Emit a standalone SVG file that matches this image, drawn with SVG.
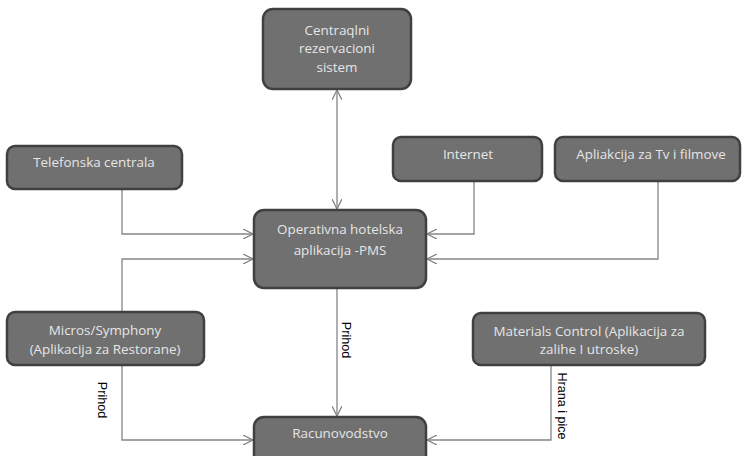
<svg xmlns="http://www.w3.org/2000/svg" width="742" height="456" viewBox="0 0 742 456">
<defs>
<style>
.box{fill:#707070;stroke:#404040;stroke-width:2.5}
.t{font-family:"Open Sans","Noto Sans","Liberation Sans",sans-serif;font-size:13.4px;fill:#e6e6e6;text-anchor:middle}
.c{fill:none;stroke:#858585;stroke-width:1.3}
.lbl{font-family:"Liberation Sans",Arial,sans-serif;font-size:12.6px;fill:#000;text-anchor:middle;dominant-baseline:central}
</style>
<marker id="ah" viewBox="0 0 10 10" refX="10" refY="5" markerWidth="10" markerHeight="10" markerUnits="userSpaceOnUse" orient="auto-start-reverse">
<path d="M0,0 L10,5 L0,10" fill="none" stroke="#858585" stroke-width="1.3"/>
</marker>
</defs>
<rect width="742" height="456" fill="#fff"/>
<g id="connectors">
<path class="c" d="M337,90 L337,209" marker-start="url(#ah)" marker-end="url(#ah)"/>
<path class="c" d="M122,189 L122,234 L253,234" marker-end="url(#ah)"/>
<path class="c" d="M122,312 L122,259 L253,259" marker-end="url(#ah)"/>
<path class="c" d="M474,181 L474,234 L427,234" marker-end="url(#ah)"/>
<path class="c" d="M658,181 L658,259 L427,259" marker-end="url(#ah)"/>
<path class="c" d="M337,289 L337,416" marker-end="url(#ah)"/>
<path class="c" d="M122,365 L122,440 L253,440" marker-end="url(#ah)"/>
<path class="c" d="M551,365 L551,440 L427,440" marker-end="url(#ah)"/>
<text class="lbl" transform="translate(346,340) rotate(90)">Prihod</text>
<text class="lbl" transform="translate(102,400) rotate(90)">Prihod</text>
<text class="lbl" transform="translate(562,406) rotate(90)">Hrana i pice</text>
</g>
<g id="central">
<rect class="box" x="263" y="9" width="148" height="80" rx="10"/>
<text class="t" x="337" y="35">Centraqlni</text>
<text class="t" x="337" y="53">rezervacioni</text>
<text class="t" x="337" y="72">sistem</text>
</g>
<g id="telefonska">
<rect class="box" x="7" y="146" width="175" height="43" rx="8"/>
<text class="t" x="94" y="167">Telefonska centrala</text>
</g>
<g id="internet">
<rect class="box" x="393" y="137" width="149" height="44" rx="8"/>
<text class="t" x="468" y="159">Internet</text>
</g>
<g id="tv">
<rect class="box" x="555" y="137" width="185" height="44" rx="8"/>
<text class="t" x="651" y="159">Apliakcija za Tv i filmove</text>
</g>
<g id="pms">
<rect class="box" x="254" y="210" width="172" height="78" rx="10"/>
<text class="t" x="340" y="234">Operativna hotelska</text>
<text class="t" x="340" y="255">aplikacija -PMS</text>
</g>
<g id="micros">
<rect class="box" x="7" y="312" width="197" height="53" rx="8"/>
<text class="t" x="105" y="335">Micros/Symphony</text>
<text class="t" x="105" y="354">(Aplikacija za Restorane)</text>
</g>
<g id="materials">
<rect class="box" x="473" y="313" width="232" height="52" rx="8"/>
<text class="t" x="589" y="336">Materials Control (Aplikacija za</text>
<text class="t" x="589" y="354">zalihe I utroske)</text>
</g>
<g id="racunovodstvo">
<rect class="box" x="254" y="417" width="172" height="50" rx="10"/>
<text class="t" x="340" y="438">Racunovodstvo</text>
</g>
</svg>
